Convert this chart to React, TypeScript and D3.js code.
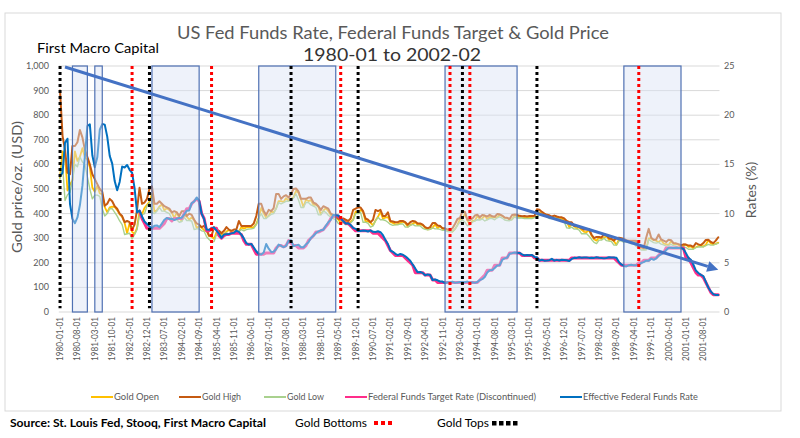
import React from "react";
import * as d3 from "d3";

// ---------- categories ----------
const months: string[] = d3
  .timeMonth.range(new Date(1980, 0, 1), new Date(2002, 2, 1))
  .map(d3.timeFormat("%Y-%m"));
const xLabelEvery = 7;
const goldTicks = [0, 100, 200, 300, 400, 500, 600, 700, 800, 900, 1000];
const rateTicks = [0, 5, 10, 15, 20, 25];

// ---------- series (monthly, 1980-01 .. 2002-02) ----------
const goldOpen = [
  545, 653, 637, 494, 518, 535, 653, 614, 631, 666, 629, 619,
  589, 506, 489, 513, 482, 479, 426, 406, 425, 428, 427, 414,
  397, 387, 362, 320, 361, 326, 317, 342, 411, 397, 423, 436,
  448, 481, 408, 414, 429, 437, 413, 422, 414, 405, 382, 405,
  382, 370, 394, 388, 376, 384, 373, 342, 348, 343, 333, 329,
  309, 306, 298, 325, 321, 316, 317, 327, 333, 326, 325, 325,
  327, 345, 339, 344, 345, 343, 345, 357, 384, 423, 401, 383,
  391, 408, 405, 421, 451, 451, 447, 463, 453, 459, 466, 493,
  484, 458, 426, 457, 451, 455, 436, 437, 427, 397, 412, 422,
  410, 394, 388, 383, 377, 362, 373, 368, 359, 367, 375, 409,
  401, 415, 407, 368, 368, 363, 352, 372, 387, 408, 379, 384,
  386, 366, 362, 356, 357, 361, 368, 362, 347, 354, 358, 366,
  353, 354, 354, 341, 336, 337, 343, 357, 340, 349, 339, 334,
  333, 330, 327, 337, 354, 378, 378, 401, 372, 356, 370, 371,
  391, 377, 381, 392, 377, 387, 385, 385, 385, 395, 390, 383,
  383, 375, 377, 392, 390, 385, 387, 383, 383, 384, 382, 387,
  387, 405, 400, 396, 392, 390, 382, 385, 386, 379, 379, 371,
  369, 345, 358, 348, 340, 345, 334, 326, 325, 332, 311, 296,
  290, 303, 297, 301, 310, 293, 296, 288, 273, 294, 292, 294,
  288, 287, 287, 280, 286, 268, 262, 255, 255, 299, 299, 292,
  290, 284, 293, 278, 276, 272, 288, 276, 277, 273, 264, 270,
  274, 265, 267, 258, 263, 268, 270, 266, 273, 293, 279, 275,
  277, 282,
];
const goldHigh = [
  900, 716, 660, 566, 560, 675, 675, 690, 740, 710, 660, 630,
  600, 560, 540, 520, 500, 488, 432, 440, 460, 450, 430, 420,
  400, 390, 365, 370, 365, 335, 355, 415, 505, 440, 445, 460,
  500, 511, 440, 440, 450, 440, 430, 425, 420, 405, 410, 405,
  390, 410, 410, 390, 400, 395, 375, 360, 355, 345, 350, 335,
  310, 310, 345, 335, 330, 320, 330, 345, 335, 330, 335, 335,
  370, 350, 350, 350, 350, 350, 360, 390, 440, 440, 410, 395,
  415, 410, 422, 480, 480, 460, 470, 475, 465, 480, 500, 502,
  490, 460, 460, 460, 465, 465, 445, 440, 430, 415, 430, 425,
  420, 400, 395, 390, 380, 376, 380, 375, 370, 380, 415, 420,
  425, 425, 410, 380, 375, 365, 375, 415, 410, 415, 390, 390,
  405, 370, 368, 365, 365, 370, 370, 365, 355, 365, 370, 368,
  360, 360, 355, 345, 340, 345, 362, 362, 352, 350, 340, 340,
  335, 335, 340, 358, 378, 382, 410, 407, 375, 373, 380, 392,
  395, 385, 394, 392, 388, 395, 389, 387, 398, 397, 392, 384,
  383, 378, 394, 396, 395, 391, 389, 390, 388, 390, 390, 390,
  418, 416, 407, 400, 395, 393, 388, 392, 388, 385, 385, 380,
  370, 365, 365, 350, 350, 346, 340, 335, 335, 337, 314, 300,
  305, 305, 303, 316, 312, 300, 297, 290, 300, 302, 300, 297,
  292, 290, 290, 290, 290, 270, 265, 260, 303, 338, 302, 294,
  295, 315, 295, 290, 285, 294, 292, 280, 279, 276, 272, 275,
  274, 270, 270, 265, 280, 275, 272, 280, 293, 294, 285, 280,
  290, 304,
];
const goldLow = [
  540, 600, 453, 477, 486, 535, 600, 590, 630, 610, 600, 550,
  500, 460, 475, 475, 470, 420, 390, 400, 420, 420, 405, 390,
  370, 355, 315, 318, 320, 297, 315, 335, 395, 395, 400, 430,
  445, 405, 400, 410, 425, 410, 410, 405, 400, 380, 375, 375,
  365, 368, 385, 372, 372, 370, 335, 338, 338, 330, 328, 306,
  295, 285, 286, 315, 310, 311, 312, 323, 315, 320, 320, 320,
  326, 335, 330, 335, 337, 338, 340, 355, 382, 400, 380, 380,
  390, 397, 400, 420, 445, 440, 445, 450, 450, 455, 463, 480,
  455, 425, 425, 445, 445, 435, 430, 425, 395, 395, 410, 405,
  393, 385, 380, 375, 360, 358, 365, 355, 355, 362, 373, 400,
  400, 405, 365, 365, 360, 345, 350, 370, 385, 375, 375, 372,
  365, 356, 352, 354, 354, 358, 358, 345, 345, 352, 356, 350,
  350, 350, 340, 336, 334, 336, 342, 338, 338, 336, 332, 332,
  327, 326, 326, 336, 352, 365, 375, 365, 350, 355, 365, 370,
  375, 374, 378, 370, 375, 380, 380, 375, 383, 387, 382, 374,
  372, 371, 376, 386, 382, 383, 382, 380, 380, 380, 380, 384,
  386, 398, 395, 390, 388, 380, 380, 383, 378, 377, 370, 367,
  342, 340, 345, 337, 338, 333, 318, 318, 318, 308, 295, 283,
  278, 292, 292, 300, 290, 288, 286, 272, 272, 288, 290, 283,
  284, 282, 277, 278, 266, 258, 252, 252, 253, 295, 288, 282,
  280, 283, 276, 273, 268, 271, 275, 270, 268, 262, 262, 266,
  262, 255, 255, 255, 262, 265, 264, 265, 270, 275, 272, 272,
  276, 280,
];
const effectiveRate = [
  13.82, 14.13, 17.19, 17.61, 10.98, 9.47, 9.03, 9.61, 10.87, 12.81, 15.85, 18.9,
  19.08, 15.93, 14.7, 15.72, 18.52, 19.1, 19.04, 17.82, 15.87, 15.08, 13.31, 12.37,
  13.22, 14.78, 14.68, 14.94, 14.45, 14.15, 12.59, 10.12, 10.31, 9.71, 9.2, 8.95,
  8.68, 8.51, 8.77, 8.8, 8.63, 8.98, 9.37, 9.56, 9.45, 9.48, 9.34, 9.47,
  9.56, 9.59, 9.91, 10.29, 10.32, 11.06, 11.23, 11.64, 11.3, 9.99, 9.43, 8.38,
  8.35, 8.5, 8.58, 8.27, 7.97, 7.53, 7.88, 7.9, 7.92, 7.99, 8.05, 8.27,
  8.14, 7.86, 7.48, 6.99, 6.85, 6.92, 6.56, 6.17, 5.89, 5.85, 6.04, 6.91,
  6.43, 6.1, 6.13, 6.37, 6.85, 6.73, 6.58, 6.73, 7.22, 7.29, 6.69, 6.77,
  6.83, 6.58, 6.58, 6.87, 7.09, 7.51, 7.75, 8.01, 8.19, 8.3, 8.35, 8.76,
  9.12, 9.36, 9.85, 9.84, 9.81, 9.53, 9.24, 8.99, 9.02, 8.84, 8.55, 8.45,
  8.23, 8.24, 8.28, 8.26, 8.18, 8.29, 8.15, 8.13, 8.2, 8.11, 7.81, 7.31,
  6.91, 6.25, 6.12, 5.91, 5.78, 5.9, 5.82, 5.66, 5.45, 5.21, 4.81, 4.43,
  4.03, 4.06, 3.98, 3.73, 3.82, 3.76, 3.25, 3.3, 3.22, 3.1, 3.09, 2.92,
  3.02, 3.03, 3.07, 2.96, 3.0, 3.04, 3.06, 3.03, 3.09, 2.99, 3.02, 2.96,
  3.05, 3.25, 3.34, 3.56, 4.01, 4.25, 4.26, 4.47, 4.73, 4.76, 5.29, 5.45,
  5.53, 5.92, 5.98, 6.05, 6.01, 6.0, 5.85, 5.74, 5.8, 5.76, 5.8, 5.6,
  5.56, 5.22, 5.31, 5.22, 5.24, 5.27, 5.4, 5.22, 5.3, 5.24, 5.31, 5.29,
  5.25, 5.19, 5.39, 5.51, 5.5, 5.56, 5.52, 5.54, 5.54, 5.5, 5.52, 5.5,
  5.56, 5.51, 5.49, 5.45, 5.49, 5.56, 5.54, 5.55, 5.51, 5.07, 4.83, 4.68,
  4.63, 4.76, 4.81, 4.74, 4.74, 4.76, 4.99, 5.07, 5.22, 5.2, 5.42, 5.3,
  5.45, 5.73, 5.85, 6.02, 6.27, 6.53, 6.54, 6.5, 6.52, 6.51, 6.51, 6.4,
  5.98, 5.49, 5.31, 4.8, 4.21, 3.97, 3.77, 3.65, 3.07, 2.49, 2.09, 1.82,
  1.73, 1.74,
];
const targetFrom = "1982-09";
const targetRate = [
  10.25, 9.5, 9.0, 8.5,
  8.5, 8.5, 8.5, 8.5, 8.5, 8.75, 9.0, 9.5, 9.5, 9.25, 9.5, 9.5,
  9.5, 9.5, 10.0, 10.5, 10.5, 11.0, 11.25, 11.5, 11.25, 10.0, 9.5, 8.25,
  8.25, 8.5, 8.5, 8.5, 7.75, 7.5, 7.75, 7.875, 7.875, 8.0, 8.0, 8.0,
  8.0, 7.875, 7.25, 6.875, 6.875, 6.875, 6.375, 5.875, 5.875, 5.875, 5.875, 6.0,
  6.0, 6.0, 6.0, 6.5, 6.75, 6.75, 6.625, 6.75, 7.25, 7.0, 6.75, 6.75,
  6.5, 6.5, 6.5, 6.75, 7.25, 7.5, 7.75, 8.125, 8.125, 8.25, 8.375, 8.6875,
  9.0, 9.5, 9.75, 9.75, 9.75, 9.5, 9.25, 9.0, 9.0, 8.75, 8.5, 8.25,
  8.25, 8.25, 8.25, 8.25, 8.25, 8.25, 8.0, 8.0, 8.0, 7.75, 7.5, 7.25,
  6.75, 6.25, 6.0, 5.75, 5.75, 5.75, 5.75, 5.5, 5.25, 5.0, 4.75, 4.0,
  4.0, 4.0, 4.0, 3.75, 3.75, 3.75, 3.25, 3.25, 3.0, 3.0, 3.0, 3.0,
  3.0, 3.0, 3.0, 3.0, 3.0, 3.0, 3.0, 3.0, 3.0, 3.0, 3.0, 3.0,
  3.0, 3.25, 3.5, 3.75, 4.25, 4.25, 4.25, 4.75, 4.75, 4.75, 5.5, 5.5,
  5.5, 6.0, 6.0, 6.0, 6.0, 6.0, 5.75, 5.75, 5.75, 5.75, 5.75, 5.5,
  5.5, 5.25, 5.25, 5.25, 5.25, 5.25, 5.25, 5.25, 5.25, 5.25, 5.25, 5.25,
  5.25, 5.25, 5.5, 5.5, 5.5, 5.5, 5.5, 5.5, 5.5, 5.5, 5.5, 5.5,
  5.5, 5.5, 5.5, 5.5, 5.5, 5.5, 5.5, 5.5, 5.25, 5.0, 4.75, 4.75,
  4.75, 4.75, 4.75, 4.75, 4.75, 5.0, 5.0, 5.25, 5.25, 5.25, 5.5, 5.5,
  5.5, 5.75, 6.0, 6.0, 6.5, 6.5, 6.5, 6.5, 6.5, 6.5, 6.5, 6.5,
  5.5, 5.5, 5.0, 4.5, 4.0, 3.75, 3.75, 3.5, 3.0, 2.5, 2.0, 1.75,
  1.75, 1.75,
];

// ---------- annotations ----------
const goldTops = ["1980-01", "1983-01", "1987-10", "1990-01", "1993-07", "1996-01"];
const goldBottoms = ["1982-06", "1985-02", "1989-06", "1993-02", "1993-10", "1999-06"];
const hikeFrom = ["1980-06", "1981-03", "1983-02", "1986-09", "1992-12", "1998-12"];
const hikeTo = ["1980-12", "1981-06", "1984-09", "1989-04", "1995-05", "2000-11"];
const trendMonths = ["1980-03", "2002-02"];
const trendRates = [24.9, 4.3];

const legendNames = [
  "Gold Open",
  "Gold High",
  "Gold Low",
  "Federal Funds Target Rate (Discontinued)",
  "Effective Federal Funds Rate",
];
const colors = ["#ffc000", "#c55a11", "#a9d18e", "#ff2d8a", "#0070c0"];

const FONT = "Lato, 'Open Sans', sans-serif";

export default function App() {
  const W = 800,
    H = 438;
  const x = d3.scaleBand<string>().domain(months).range([58.8, 719.5]).padding(0);
  const cx = (m: string) => (x(m) as number) + x.bandwidth() / 2;
  const yL = d3.scaleLinear().domain([0, 1000]).range([312, 66]);
  const yR = d3.scaleLinear().domain([0, 25]).range([312, 66]);

  const goldLine = d3
    .line<number>()
    .x((_, i) => cx(months[i]))
    .y((v) => yL(v));
  const rateLine = d3
    .line<number>()
    .x((_, i) => cx(months[i]))
    .y((v) => yR(v));
  const tOff = months.indexOf(targetFrom);
  const targetLine = d3
    .line<number>()
    .x((_, i) => cx(months[i + tOff]))
    .y((v) => yR(v));

  const [x0, x1] = [x.range()[0], x.range()[1]];

  // trend arrow
  const p0 = [cx(trendMonths[0]), yR(trendRates[0])];
  const p1 = [cx(trendMonths[1]), yR(trendRates[1])];
  const dx = p1[0] - p0[0],
    dy = p1[1] - p0[1];
  const len = Math.hypot(dx, dy);
  const ux = dx / len,
    uy = dy / len;
  const ah = 11,
    aw = 5.5;
  const base = [p1[0] - ux * ah, p1[1] - uy * ah];
  const arrowPts = [
    [p1[0], p1[1]],
    [base[0] - uy * aw, base[1] + ux * aw],
    [base[0] + uy * aw, base[1] - ux * aw],
  ]
    .map((p) => p.join(","))
    .join(" ");

  const legendX = [91, 179, 264, 345, 560];
  const legendW = [45, 39, 37, 168, 115];

  return (
    <svg
      width={W}
      height={H}
      style={{ position: "absolute", left: 0, top: 0, background: "#fff" }}
      fontFamily={FONT}
    >
      <rect x={0} y={0} width={W} height={H} fill="#fff" />
      <rect x={5} y={13} width={776} height={398} fill="none" stroke="#d9d9d9" strokeWidth={1} />

      {/* titles */}
      <text x={393} y={39} textAnchor="middle" fontSize={16.5} fill="#595959" textLength={432} lengthAdjust="spacingAndGlyphs">
        US Fed Funds Rate, Federal Funds Target &amp; Gold Price
      </text>
      <text x={392} y={61} textAnchor="middle" fontSize={16.5} fill="#333" textLength={178} lengthAdjust="spacingAndGlyphs">
        1980-01 to 2002-02
      </text>
      <text x={37} y={53} fontSize={13} fill="#000" textLength={122} lengthAdjust="spacingAndGlyphs">
        First Macro Capital
      </text>

      {/* gridlines */}
      {goldTicks.map((t) => (
        <line key={t} x1={x0} x2={x1} y1={yL(t)} y2={yL(t)} stroke="#d9d9d9" strokeWidth={1} />
      ))}

      {/* axis ticks */}
      {goldTicks.map((t) => (
        <text key={"l" + t} x={49} y={yL(t) + 3} textAnchor="end" fontSize={9} fill="#595959">
          {d3.format(",")(t)}
        </text>
      ))}
      {rateTicks.map((t) => (
        <text key={"r" + t} x={724} y={yR(t) + 3} fontSize={9} fill="#595959">
          {t}
        </text>
      ))}
      <text
        transform={`translate(22,187) rotate(-90)`}
        textAnchor="middle"
        fontSize={14}
        fill="#595959"
        textLength={132}
        lengthAdjust="spacingAndGlyphs"
      >
        Gold price/oz. (USD)
      </text>
      <text transform={`translate(756,190) rotate(-90)`} textAnchor="middle" fontSize={14} fill="#595959">
        Rates (%)
      </text>

      {/* x labels */}
      {months
        .filter((_, i) => i % xLabelEvery === 0)
        .map((m) => (
          <text
            key={m}
            transform={`translate(${cx(m) + 3},317) rotate(-90)`}
            textAnchor="end"
            fontSize={8.6}
            fill="#595959"
            textLength={44}
            lengthAdjust="spacingAndGlyphs"
          >
            {m + "-01"}
          </text>
        ))}

      {/* series */}
      <g fill="none" strokeLinejoin="round" strokeLinecap="round">
        <path d={goldLine(goldOpen) || ""} stroke={colors[0]} strokeWidth={1.8} />
        <path d={goldLine(goldHigh) || ""} stroke={colors[1]} strokeWidth={2} />
        <path d={goldLine(goldLow) || ""} stroke={colors[2]} strokeWidth={1.4} />
        <path d={targetLine(targetRate) || ""} stroke={colors[3]} strokeWidth={3} />
        <path d={rateLine(effectiveRate) || ""} stroke={colors[4]} strokeWidth={2} />
      </g>

      {/* shaded periods */}
      {hikeFrom.map((m, i) => (
        <rect
          key={m}
          x={cx(m)}
          y={yL(1000)}
          width={cx(hikeTo[i]) - cx(m)}
          height={yL(0) - yL(1000)}
          fill="#dae3f3"
          fillOpacity={0.45}
          stroke="#4f71b3"
          strokeWidth={1.2}
        />
      ))}

      {/* gold tops / bottoms */}
      {goldTops.map((m) => (
        <line key={"t" + m} x1={cx(m)} x2={cx(m)} y1={yL(1000)} y2={yL(15)} stroke="#000" strokeWidth={3} strokeDasharray="3 3" />
      ))}
      {goldBottoms.map((m) => (
        <line key={"b" + m} x1={cx(m)} x2={cx(m)} y1={yL(1000)} y2={yL(0)} stroke="#ff0000" strokeWidth={3} strokeDasharray="3 3" />
      ))}

      {/* trend arrow */}
      <line x1={p0[0]} y1={p0[1]} x2={base[0]} y2={base[1]} stroke="#4472c4" strokeWidth={3} />
      <polygon points={arrowPts} fill="#4472c4" />

      {/* legend */}
      {legendNames.map((n, i) => (
        <g key={n}>
          <line x1={legendX[i]} x2={legendX[i] + 22} y1={397} y2={397} stroke={colors[i]} strokeWidth={2} />
          <text x={legendX[i] + 23} y={400} fontSize={8.5} fill="#595959" textLength={legendW[i]} lengthAdjust="spacingAndGlyphs">
            {n}
          </text>
        </g>
      ))}

      {/* footer */}
      <text x={10} y={427} fontSize={11.5} fontWeight="bold" fill="#000" textLength={256} lengthAdjust="spacingAndGlyphs">
        Source: St. Louis Fed, Stooq, First Macro Capital
      </text>
      <text x={295} y={427} fontSize={11.5} fill="#000" textLength={72} lengthAdjust="spacingAndGlyphs">
        Gold Bottoms
      </text>
      {[0, 1, 2].map((k) => (
        <rect key={"rb" + k} x={374 + k * 7} y={421} width={4} height={4} fill="#ff0000" />
      ))}
      <text x={437} y={427} fontSize={11.5} fill="#000" textLength={52} lengthAdjust="spacingAndGlyphs">
        Gold Tops
      </text>
      {[0, 1, 2, 3].map((k) => (
        <rect key={"bt" + k} x={492 + k * 7} y={421} width={4.5} height={4.5} fill="#000" />
      ))}
    </svg>
  );
}
